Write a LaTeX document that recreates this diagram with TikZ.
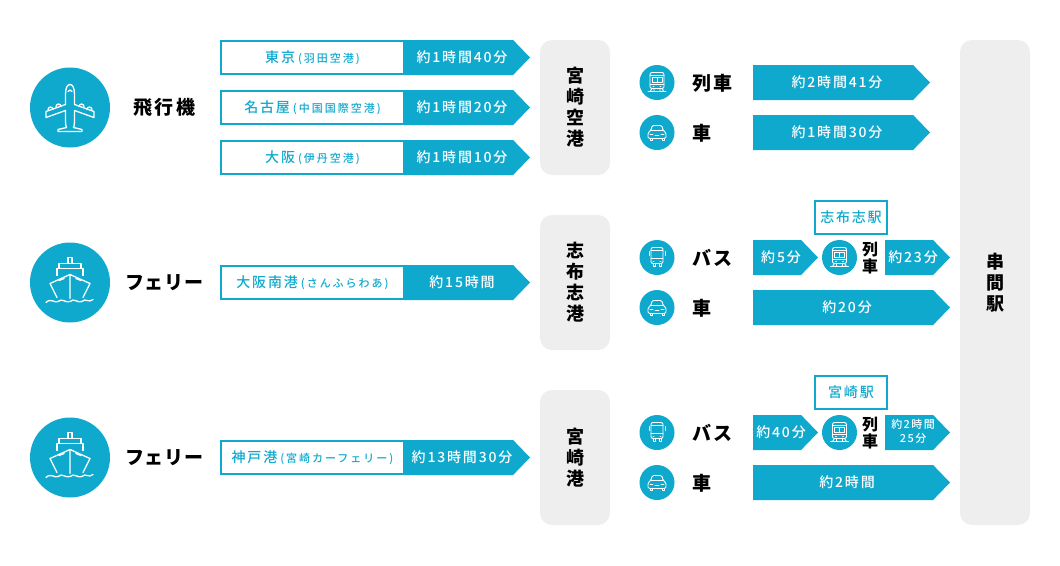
\documentclass[tikz,border=0pt]{standalone}
\usepackage{fontspec}
\setmainfont{Noto Sans CJK JP}
\newfontfamily\medfont{Noto Sans CJK JP Medium}
\usetikzlibrary{shapes.symbols,positioning}
\definecolor{teal}{HTML}{10A9CE}
\definecolor{panel}{HTML}{EEEEEE}
\newcommand{\txt}[1]{\medfont\fontsize{#1}{#1}\selectfont\addfontfeature{LetterSpace=13}}
\newcommand{\subt}[1]{\hspace{3pt}{\fontsize{11}{11}\selectfont\addfontfeature{LetterSpace=18}#1}}
\newcommand{\timetxt}[1]{\hspace*{8pt}\makebox[0pt]{#1}}
\tikzstyle{hub} = [rectangle, fill=panel, rounded corners=12pt, minimum width=70pt, align=center, font=\fontsize{18}{18}\selectfont\bfseries, inner sep=0pt]
\tikzstyle{bigdisc} = [circle, fill=teal, minimum size=80pt, inner sep=0pt]
\tikzstyle{disc} = [circle, fill=teal, minimum size=35pt, inner sep=0pt]
\tikzstyle{mode} = [font=\fontsize{19}{19}\selectfont\bfseries\addfontfeature{LetterSpace=13}, inner sep=0pt, anchor=west]
\tikzstyle{leg} = [signal, signal to=east, signal pointer angle=92, fill=teal, text=white, minimum height=35pt, inner sep=0pt, outer sep=0pt, anchor=west, font=\txt{14}]
\tikzstyle{route} = [rectangle, draw=teal, line width=2pt, fill=white, text=teal, minimum width=183pt, minimum height=33pt, inner sep=0pt, outer sep=0pt, anchor=west, font=\txt{14}]
\tikzstyle{station} = [rectangle, draw=teal, line width=2pt, fill=white, text=teal, minimum width=72pt, minimum height=33pt, inner sep=0pt, font=\txt{14}]
\tikzstyle{ico} = [draw=white, line width=1.3pt, line join=round, line cap=round]
\tikzstyle{smallico} = [draw=white, line width=.9pt, line join=round, line cap=round]
\tikzset{
  plane/.pic={
    \foreach \s in {-1,1} {
      \draw[ico, xscale=\s] (0,-23) .. controls (2.5,-23) and (4.5,-20) .. (4.5,-13) -- (4.5,-3) -- (24,4) -- (24,10) -- (4.5,3) -- (4.5,14) .. controls (4.5,17) and (4,19) .. (3.5,20) -- (12,22) -- (12,24) -- (0,24);
      \draw[ico, xscale=\s] (9,-1) arc (180:360:2.5) (17,2) arc (180:360:2.5);
    }
    \draw[ico] (-2,-16) .. controls (-1,-18) and (1,-18) .. (2,-16);
  },
  ship/.pic={
    \draw[ico] (-2,-19) -- (-2,-25) -- (2,-25) -- (2,-19);
    \draw[ico] (-11,-14) -- (-11,-19) -- (11,-19) -- (11,-14);
    \draw[ico] (-13,-7) -- (-13,-14) -- (13,-14) -- (13,-7);
    \draw[ico] (-13,15) -- (-20,1) -- (0,-8) -- (20,1) -- (13,15);
    \draw[ico] (0,-8) -- (0,16) (-11,-2) -- (-6,-4) (11,-2) -- (6,-4);
    \draw[ico] (-24,20) .. controls (-19,15) and (-15,21) .. (-12,19) .. controls (-8,15) and (-4,21) .. (0,19) .. controls (4,15) and (8,21) .. (12,19) .. controls (15,15) and (19,21) .. (23,17);
  },
  train/.pic={
    \draw[smallico, rounded corners=2pt] (-7,6) -- (-7,-10) -- (7,-10) -- (7,6) -- cycle;
    \draw[smallico] (-7,-7) -- (7,-7) (-5,-5) rectangle (5,0) (0,-5) -- (0,0) (-7,2) -- (7,2) (-4,4) -- (-3,4) (4,4) -- (3,4);
    \draw[smallico] (-9,9) -- (9,9) (-5,6) -- (-7,9) (5,6) -- (7,9) (-3,6) -- (-3,9) (3,6) -- (3,9);
  },
  car/.pic={
    \draw[smallico, rounded corners=1.5pt] (-9,6) -- (-9,0) -- (-6,-2) -- (-5,-7) -- (5,-7) -- (6,-2) -- (9,0) -- (9,6) -- cycle;
    \draw[smallico] (-6,-2) -- (6,-2) (-7,2) -- (-4,2) (7,2) -- (4,2) (-2,3) -- (2,3) (-7,6) -- (-7,8) -- (-5,8) -- (-5,6) (7,6) -- (7,8) -- (5,8) -- (5,6);
  },
  bus/.pic={
    \draw[smallico, rounded corners=2pt] (-6,6) -- (-6,-10) -- (6,-10) -- (6,6) -- cycle;
    \draw[smallico] (-6,-7) -- (6,-7) (-6,1) -- (6,1) (-8,-6) -- (-8,-2) (8,-6) -- (8,-2) (-4,6) -- (-4,9) -- (-2,9) -- (-2,6) (4,6) -- (4,9) -- (2,9) -- (2,6) (-4,4) -- (-3,4) (4,4) -- (3,4);
  }
}
\begin{document}
\begin{tikzpicture}[x=1pt, y=-1pt]
  \useasboundingbox (0,0) rectangle (1060,565);
  % three hubs and the station
  \node[hub, minimum height=135pt] (miyazakiair) at (575,107.5) {宮\\[3pt]崎\\[3pt]空\\[3pt]港};
  \node[hub, minimum height=135pt] (shibushiport) at (575,282.5) {志\\[3pt]布\\[3pt]志\\[3pt]港};
  \node[hub, minimum height=135pt] (miyazakiport) at (575,457.5) {宮\\[3pt]崎\\[3pt]港};
  \node[hub, minimum height=485pt] (kushima) at (995,282.5) {串\\[3pt]間\\[3pt]駅};

  % left column
  \node[bigdisc] (planedisc) at (70,107.5) {};
  \node[bigdisc] (shipdisc) at (70,282.5) {};
  \node[bigdisc] (shipdisctwo) at (70,457.5) {};
  \pic at (planedisc.center) {plane};
  \pic at (shipdisc.center) {ship};
  \pic at (shipdisctwo.center) {ship};
  \node[mode, right=23pt of planedisc] (planelabel) {飛行機};
  \node[mode, right=15pt of shipdisc] (ferrylabel) {\addfontfeature{LetterSpace=3}フェリー};
  \node[mode, right=15pt of shipdisctwo] (ferrylabeltwo) {\addfontfeature{LetterSpace=3}フェリー};

  % routes
  \node[leg, minimum width=127pt] (tokyotime) at (403,57.5) {\timetxt{約1時間40分}};
  \node[leg, minimum width=127pt] (nagoyatime) at (403,107.5) {\timetxt{約1時間20分}};
  \node[leg, minimum width=127pt] (osakatime) at (403,157.5) {\timetxt{約1時間10分}};
  \node[leg, minimum width=127pt] (nankotime) at (403,282.5) {\timetxt{約15時間}};
  \node[leg, minimum width=127pt] (kobetime) at (403,457.5) {\timetxt{約13時間30分}};
  \node[route] (tokyo) at (221,57.5) {東京\subt{(羽田空港)}};
  \node[route] (nagoya) at (221,107.5) {名古屋\subt{(中国国際空港)}};
  \node[route] (osaka) at (221,157.5) {大阪\subt{(伊丹空港)}};
  \node[route] (nanko) at (221,282.5) {大阪南港\subt{(さんふらわあ)}};
  \node[route] (kobe) at (221,457.5) {神戸港\subt{(宮崎カーフェリー)}};

  % from the airport
  \node[disc] (traindisc) at (657,82.5) {};
  \node[disc] (cardisc) at (657,132.5) {};
  \pic at (traindisc.center) {train};
  \pic at (cardisc.center) {car};
  \node[mode] (trainlabel) at (692,83) {列車};
  \node[mode] (carlabel) at (692,133) {車};
  \node[leg, minimum width=177pt] (traintime) at (753,82.5) {\timetxt{約2時間41分}};
  \node[leg, minimum width=177pt] (cartime) at (753,132.5) {\timetxt{約1時間30分}};

  % from shibushi port
  \node[disc] (busdisc) at (657,257.5) {};
  \node[disc] (cardisctwo) at (657,307.5) {};
  \pic at (busdisc.center) {bus};
  \pic at (cardisctwo.center) {car};
  \node[mode] (buslabel) at (692,258) {バス};
  \node[mode] (carlabeltwo) at (692,308) {車};
  \node[leg, minimum width=65pt] (bustime) at (753,257.5) {\timetxt{約5分}};
  \node[disc] (shibushitrain) at (839.5,257.5) {};
  \pic at (shibushitrain.center) {train};
  \node[font=\fontsize{16}{16}\selectfont\bfseries, align=center, inner sep=0pt] (shibushitrainlabel) at (870,258) {列\\[1pt]車};
  \node[leg, minimum width=65pt] (shibushitraintime) at (885,257.5) {\timetxt{約23分}};
  \node[leg, minimum width=197pt] (cartimetwo) at (753,307.5) {\timetxt{約20分}};
  \node[station] (shibushist) at (851,217.5) {志布志駅};

  % from miyazaki port
  \node[disc] (busdisctwo) at (657,432.5) {};
  \node[disc] (cardiscthree) at (657,482.5) {};
  \pic at (busdisctwo.center) {bus};
  \pic at (cardiscthree.center) {car};
  \node[mode] (buslabeltwo) at (692,433) {バス};
  \node[mode] (carlabelthree) at (692,483) {車};
  \node[leg, minimum width=65pt] (bustimetwo) at (753,432.5) {\timetxt{約40分}};
  \node[disc] (miyazakitrain) at (839.5,432.5) {};
  \pic at (miyazakitrain.center) {train};
  \node[font=\fontsize{16}{16}\selectfont\bfseries, align=center, inner sep=0pt] (miyazakitrainlabel) at (870,433) {列\\[1pt]車};
  \node[leg, minimum width=65pt, font=\txt{11}] (miyazakitraintime) at (885,432.5) {\timetxt{\begin{tabular}{@{}c@{}}約2時間\\[1pt]25分\end{tabular}}};
  \node[leg, minimum width=197pt] (cartimethree) at (753,482.5) {\timetxt{約2時間}};
  \node[station] (miyazakist) at (851,392.5) {宮崎駅};
\end{tikzpicture}
\end{document}
